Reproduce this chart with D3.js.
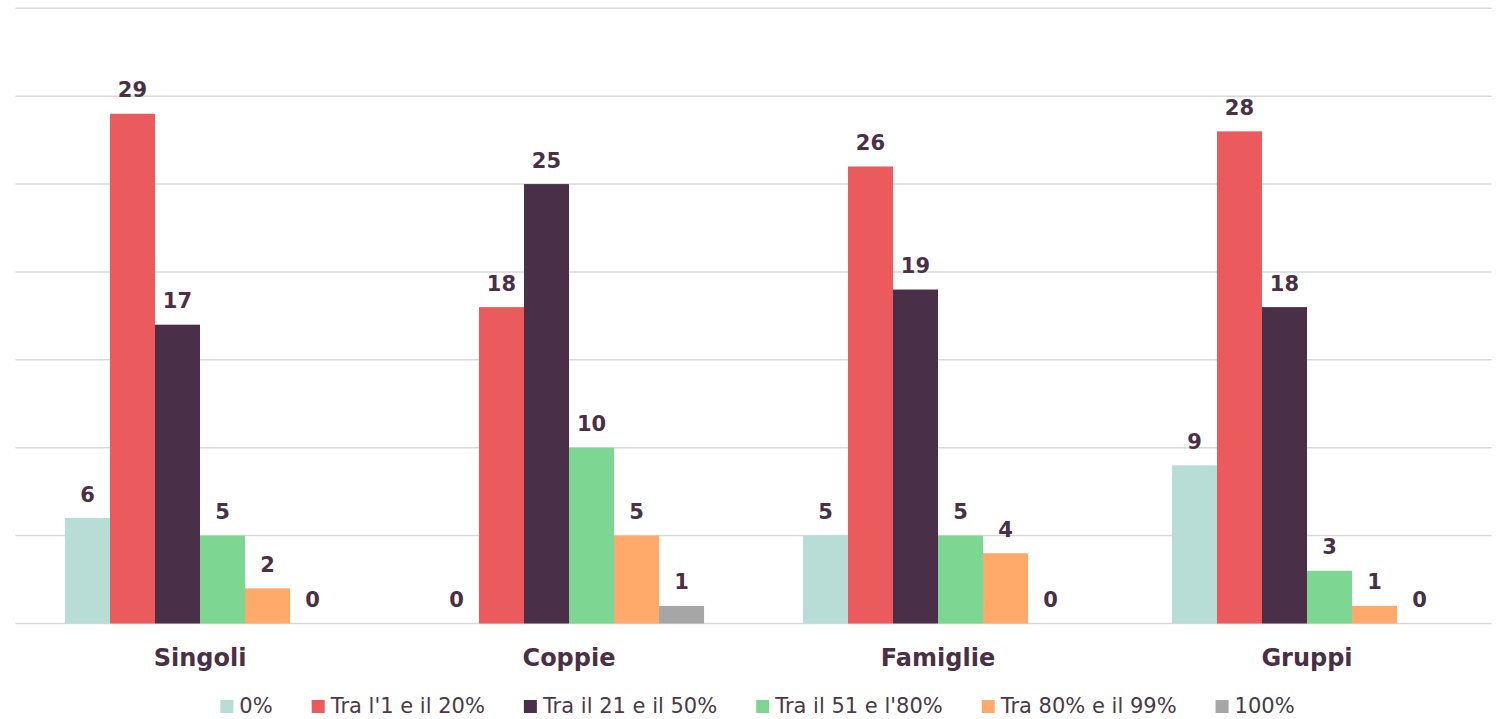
<!DOCTYPE html>
<html>
<head>
<meta charset="utf-8">
<script src="https://cdn.jsdelivr.net/npm/d3@7"></script>
<style>
  html, body { margin: 0; padding: 0; background: #fff; }
  svg { display: block; }
</style>
</head>
<body>
<svg id="chart" width="1501" height="719"></svg>
<script>
const categories = ["Singoli", "Coppie", "Famiglie", "Gruppi"];
const seriesNames = ["0%", "Tra l'1 e il 20%", "Tra il 21 e il 50%", "Tra il 51 e l'80%", "Tra 80% e il 99%", "100%"];
const seriesColors = ["#b8ddd6", "#eb5b5e", "#4a2f48", "#7dd793", "#ffa96b", "#a6a6a6"];
const values0 = [6, 0, 5, 9];
const values1 = [29, 18, 26, 28];
const values2 = [17, 25, 19, 18];
const values3 = [5, 10, 5, 3];
const values4 = [2, 5, 4, 1];
const values5 = [0, 1, 0, 0];
const seriesValues = [values0, values1, values2, values3, values4, values5];
const yTicks = [0, 5, 10, 15, 20, 25, 30, 35];

(function () {
const textColor = "#4a2f48";
const svg = d3.select("#chart");
const mLeft = 15.5, mRight = 1491.5, mTop = 8.3, mBottom = 623.5;

const x0 = d3.scaleBand().domain(categories).range([mLeft, mRight]).paddingInner(0.268).paddingOuter(0.134);
const x1 = d3.scaleBand().domain(d3.range(seriesNames.length)).range([0, x0.bandwidth()]).padding(0);
const y = d3.scaleLinear().domain([0, 35]).range([mBottom, mTop]);

// gridlines
svg.append("g").selectAll("line").data(yTicks).join("line")
  .attr("x1", mLeft).attr("x2", mRight)
  .attr("y1", d => y(d)).attr("y2", d => y(d))
  .attr("stroke", "#d9d9d9").attr("stroke-width", 1.5);

const data = [];
categories.forEach((c, ci) => {
  seriesValues.forEach((vals, si) => data.push({ c, si, v: vals[ci] }));
});

// bars
svg.append("g").selectAll("rect").data(data).join("rect")
  .attr("x", d => x0(d.c) + x1(d.si))
  .attr("width", x1.bandwidth())
  .attr("y", d => y(d.v))
  .attr("height", d => y(0) - y(d.v))
  .attr("fill", d => seriesColors[d.si]);

// value labels
svg.append("g").selectAll("text").data(data).join("text")
  .attr("x", d => x0(d.c) + x1(d.si) + x1.bandwidth() / 2)
  .attr("y", d => y(d.v) - 16.5)
  .attr("text-anchor", "middle")
  .attr("font-family", "DejaVu Sans")
  .attr("font-weight", "bold")
  .attr("font-size", "21px")
  .attr("fill", textColor)
  .text(d => d.v);

// category axis labels
const xAxis = d3.axisBottom(x0).tickSize(0).tickPadding(0);
const gx = svg.append("g").attr("transform", `translate(0,${mBottom})`).call(xAxis);
gx.select(".domain").remove();
gx.selectAll("text")
  .attr("dy", null)
  .attr("y", 42)
  .attr("font-family", "DejaVu Sans")
  .attr("font-weight", "bold")
  .attr("font-size", "24px")
  .attr("fill", textColor);

// legend
const legend = svg.append("g");
const items = legend.selectAll("g").data(seriesNames).join("g");
items.append("rect").attr("width", 13).attr("height", 13).attr("y", -13)
  .attr("fill", (d, i) => seriesColors[i]);
items.append("text").attr("x", 19).attr("y", 0)
  .attr("font-family", "DejaVu Sans")
  .attr("font-size", "21px")
  .attr("fill", "#4a3a48")
  .text(d => d);
let cx = 0;
const gap = 39;
const positions = [];
items.each(function () {
  const w = 19 + this.querySelector("text").getComputedTextLength();
  positions.push(cx);
  cx += w + gap;
});
const total = cx - gap;
const startX = 757.5 - total / 2;
items.attr("transform", (d, i) => `translate(${startX + positions[i]},713)`);
})();
</script>
</body>
</html>
